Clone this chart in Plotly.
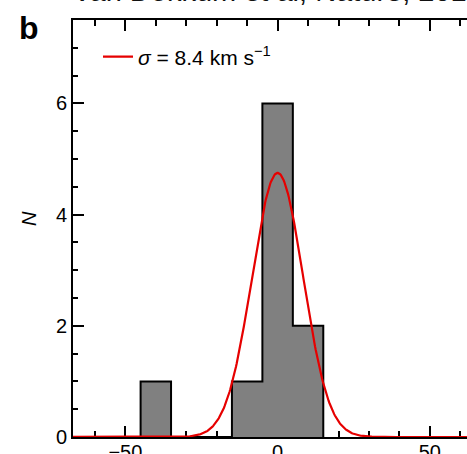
import numpy as np
import plotly.graph_objects as go

# Histogram of line-of-sight velocities (km/s)
bin_edges = [-45, -35, -25, -15, -5, 5, 15]
counts = [1, 0, 0, 1, 6, 2]
sigma = 8.4          # best-fit dispersion, km/s
mu = 0.0

W, H = 467, 454
ML, MR, MT, MB = 73, 0, 20, 17
PW, PH = W - ML - MR, H - MT - MB

FONT = "Liberation Sans"
RED = "#e60000"

edges = np.array(bin_edges, dtype=float)
cnt = np.array(counts, dtype=float)
widths = np.diff(edges)

# Gaussian model scaled to the histogram: N_total * bin width
x_model = np.linspace(-70, 70, 600)
amp = cnt.sum() * widths[0] / (sigma * np.sqrt(2 * np.pi))
y_model = amp * np.exp(-0.5 * ((x_model - mu) / sigma) ** 2)

# Filled step outline of the histogram
step_x = [edges[0]] + list(edges)
step_y = [0] + list(cnt) + [0]

fig = go.Figure()
fig.add_trace(go.Scatter(
    x=step_x, y=step_y, mode="lines", line_shape="hv",
    fill="tozeroy", fillcolor="#808080",
    line=dict(color="black", width=2), showlegend=False, hoverinfo="skip",
))
fig.add_trace(go.Scatter(
    x=x_model, y=y_model, mode="lines",
    line=dict(color=RED, width=2.2),
    name=f"<i>σ</i> = {sigma} km s<sup>−1</sup>",
))

axis_common = dict(
    showgrid=False, zeroline=False, showline=True, linecolor="black",
    linewidth=2, ticks="inside", tickcolor="black", tickwidth=1.5,
    tickfont=dict(family=FONT, size=20, color="black"),
    layer="below traces", automargin=False,
)

fig.update_xaxes(
    range=[-67.2, 62.2], tickvals=[-50, 0, 50], ticklen=11, mirror="ticks",
    ticklabelstandoff=-4,
    minor=dict(dtick=10, tick0=0, ticklen=6, ticks="inside", tickcolor="black", tickwidth=1.5),
    **axis_common,
)
fig.update_yaxes(
    range=[0, 7.5], tickvals=[0, 2, 4, 6], ticklen=11, mirror=False,
    minor=dict(dtick=0.5, tick0=0, ticklen=5, ticks="inside", tickcolor="black", tickwidth=1.5),
    **axis_common,
)

def px_x(p):
    return (p - ML) / PW

def px_y(p):
    return (H - MB - p) / PH

fig.update_layout(
    width=W, height=H,
    margin=dict(l=ML, r=MR, t=MT, b=MB, pad=0),
    paper_bgcolor="white", plot_bgcolor="white",
    font=dict(family=FONT, color="black"),
    showlegend=True,
    legend=dict(
        x=px_x(98), y=px_y(57), xanchor="left", yanchor="middle",
        bgcolor="rgba(0,0,0,0)", font=dict(family=FONT, size=21, color="black"),
    ),
    annotations=[
        dict(text="van Dokkum et al, Nature, 2018", xref="paper", yref="paper",
             x=px_x(73), y=px_y(9), xanchor="left", yanchor="bottom",
             showarrow=False, font=dict(family=FONT, size=29, color="#111")),
        dict(text="<b>b</b>", xref="paper", yref="paper",
             x=px_x(17), y=px_y(28), xanchor="left", yanchor="middle",
             showarrow=False, font=dict(family=FONT, size=32, color="black")),
        dict(text="<i>N</i>", xref="paper", yref="paper",
             x=px_x(29), y=px_y(219), xanchor="center", yanchor="middle",
             textangle=-90, showarrow=False,
             font=dict(family=FONT, size=20, color="black")),
    ],
)

fig.write_html("out.html")
